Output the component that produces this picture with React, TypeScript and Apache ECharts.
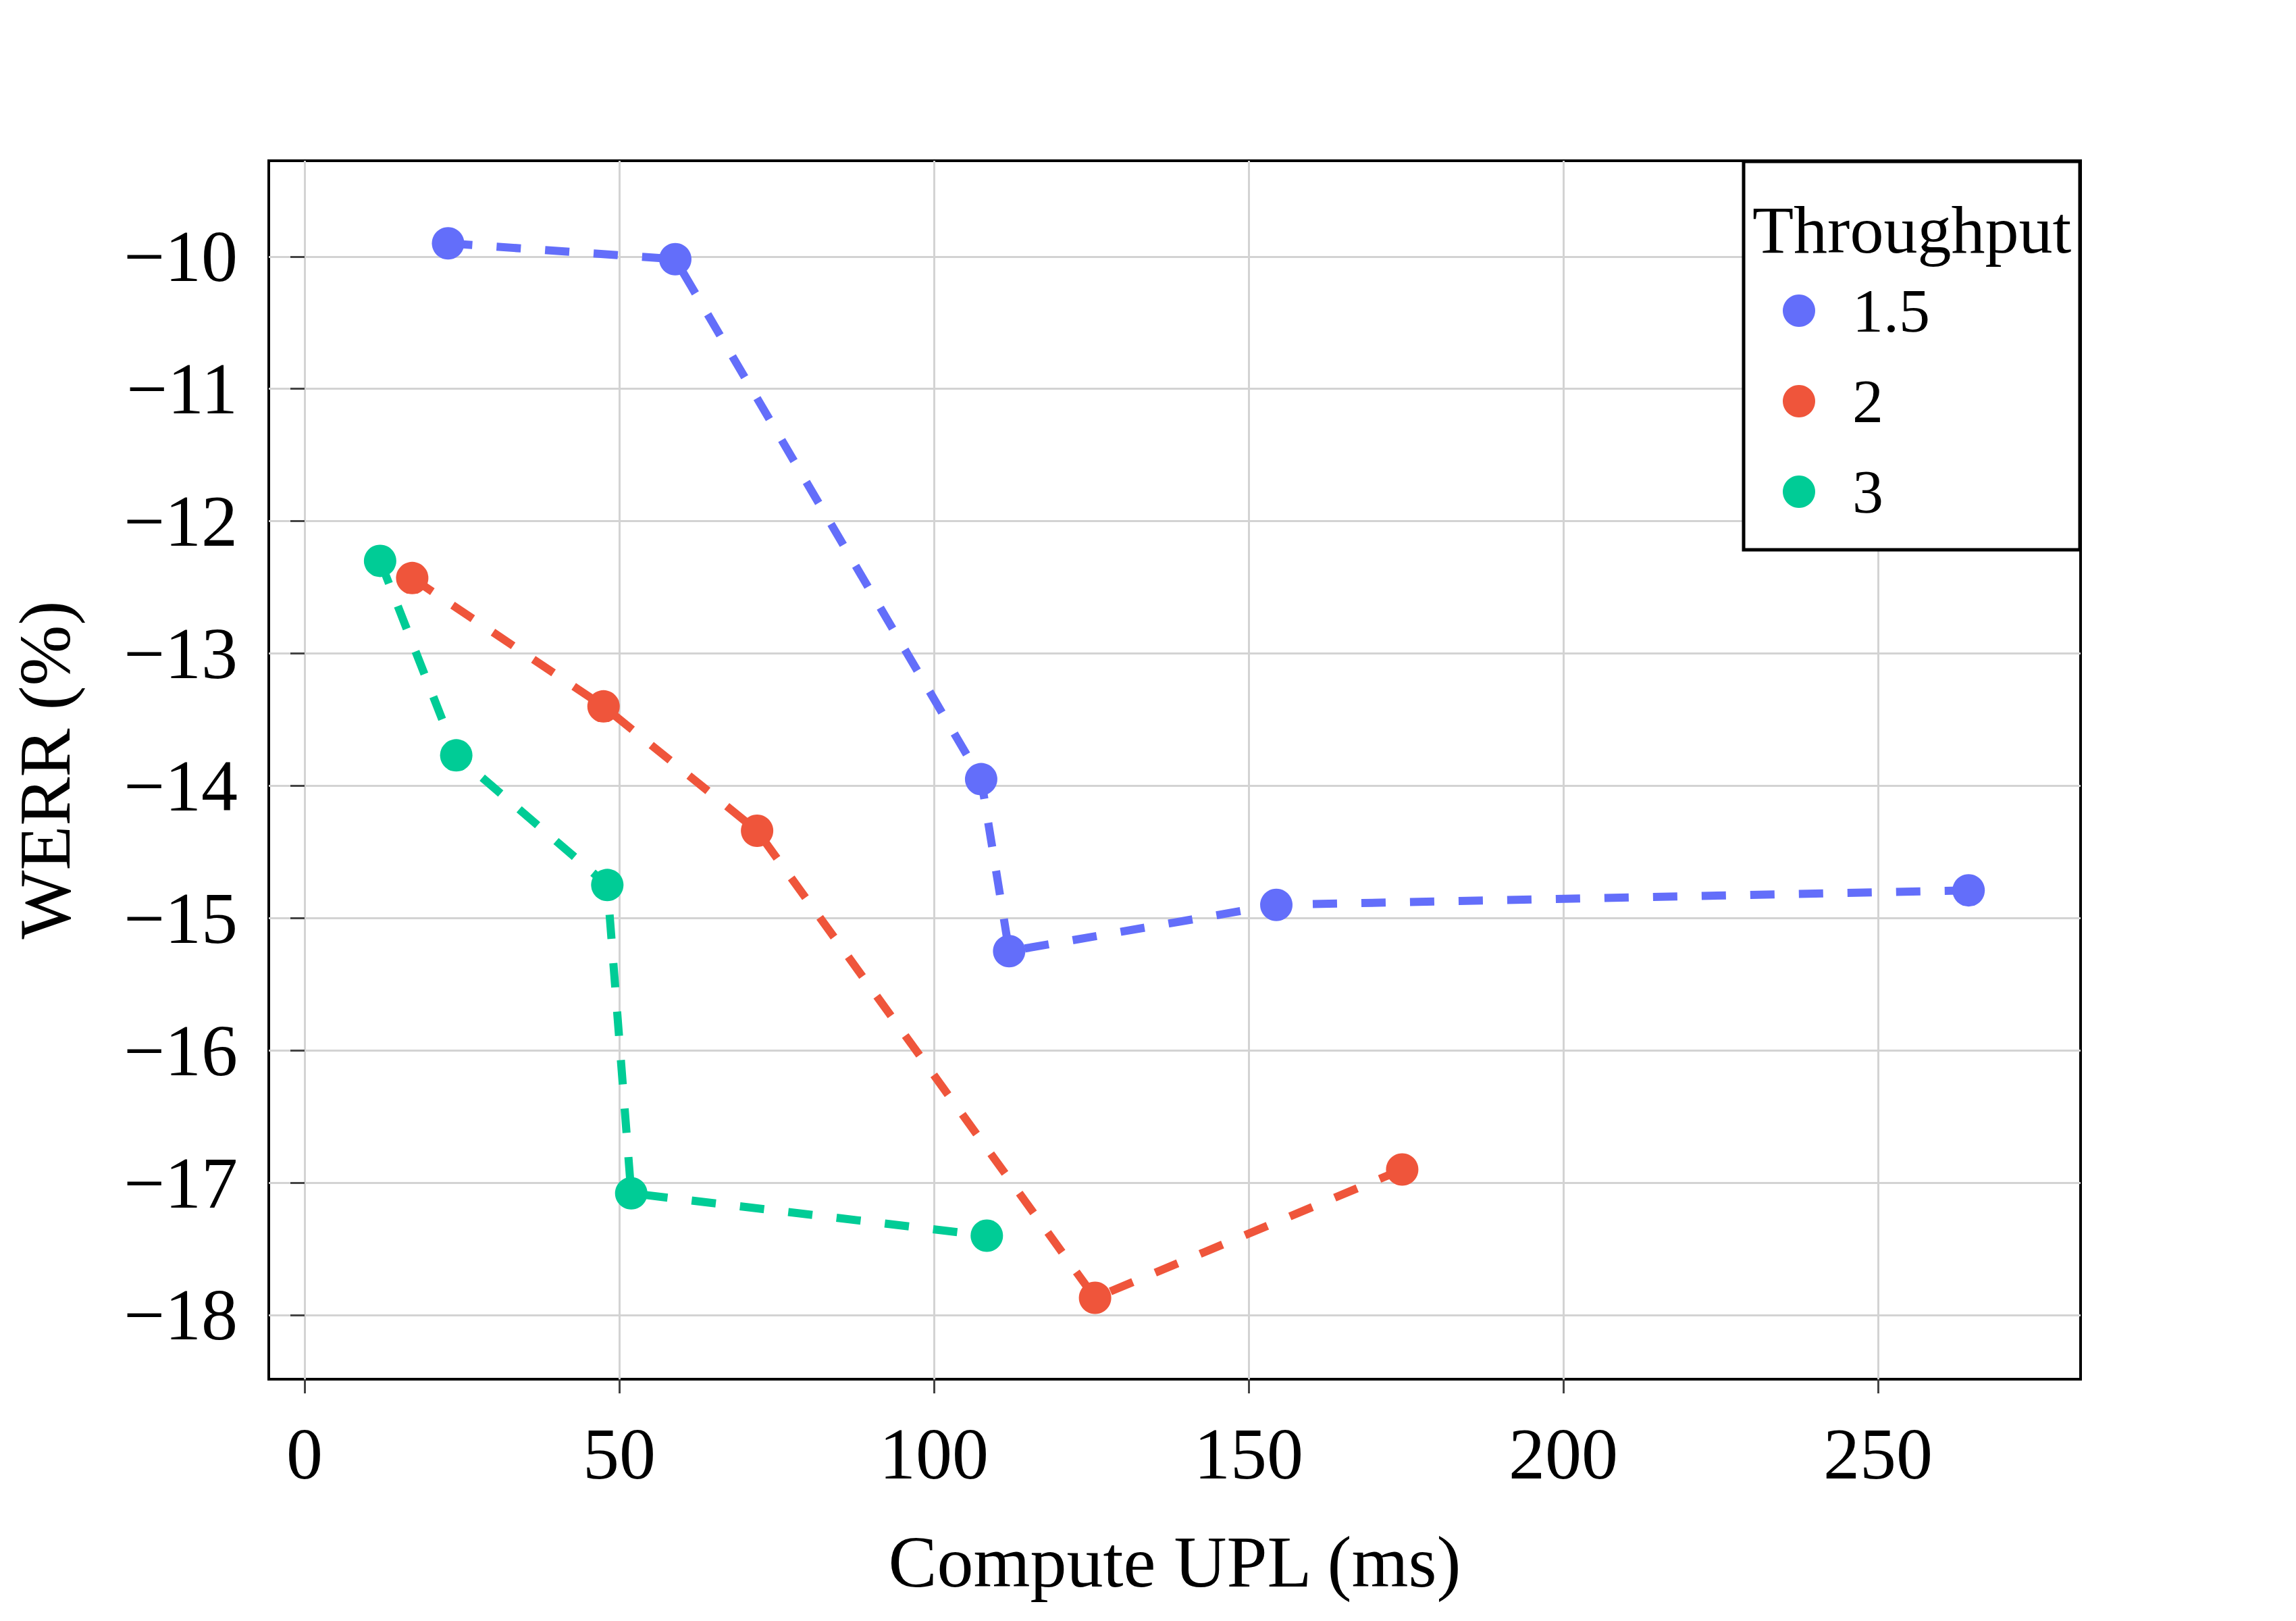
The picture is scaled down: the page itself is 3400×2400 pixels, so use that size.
import React, { useEffect, useRef } from "react";
import * as echarts from "echarts";

const seriesNames = ["1.5", "2", "3"];
const seriesColors = ["#636EFA", "#EF553B", "#00CC96"];
const x15 = [22.8, 58.9, 107.5, 111.95, 154.4, 264.4];
const y15 = [-9.9, -10.02, -13.95, -15.25, -14.9, -14.79];
const x2 = [17.1, 47.5, 71.9, 125.6, 174.4];
const y2 = [-12.43, -13.4, -14.34, -17.87, -16.9];
const x3 = [12.0, 24.1, 48.1, 51.9, 108.4];
const y3 = [-12.3, -13.77, -14.75, -17.08, -17.4];
const xTicks = [0, 50, 100, 150, 200, 250];
const yTicks = [-18, -17, -16, -15, -14, -13, -12, -11, -10];
const xTitle = "Compute UPL (ms)";
const yTitle = "WERR (%)";
const legendTitle = "Throughput";

const FONT = '"Liberation Serif", "Times New Roman", Times, serif';

function pairs(xs: number[], ys: number[]) {
  return xs.map((x, i) => [x, ys[i]]);
}

const fmt = (v: number) => (v < 0 ? "\u2212" + Math.abs(v) : String(v));

export default function App() {
  const ref = useRef<HTMLDivElement>(null);
  useEffect(() => {
    document.body.style.margin = "0";
    if (!ref.current) return;
    const chart = echarts.init(ref.current, null, { renderer: "svg" });
    const data = [pairs(x15, y15), pairs(x2, y2), pairs(x3, y3)];
    chart.setOption({
      animation: false,
      backgroundColor: "#ffffff",
      grid: {
        left: 398,
        top: 238,
        width: 2683,
        height: 1804,
        show: true,
        borderColor: "#000000",
        borderWidth: 4,
        backgroundColor: "transparent",
      },
      xAxis: {
        type: "value",
        min: -5.69,
        max: 282.19,
        name: xTitle,
        nameLocation: "middle",
        nameGap: 216,
        nameTextStyle: { fontFamily: FONT, fontSize: 108, color: "#000" },
        axisLine: { show: false },
        axisTick: {
          show: true,
          inside: false,
          length: 21,
          lineStyle: { color: "#444", width: 3 },
          customValues: xTicks,
        },
        axisLabel: {
          fontFamily: FONT,
          fontSize: 108,
          color: "#000",
          margin: 56,
          customValues: xTicks,
          formatter: fmt,
        },
        splitLine: { show: true, lineStyle: { color: "#d3d3d3", width: 3 } },
      },
      yAxis: {
        type: "value",
        min: -18.485,
        max: -9.276,
        name: yTitle,
        nameLocation: "middle",
        nameGap: 278,
        nameTextStyle: { fontFamily: FONT, fontSize: 108, color: "#000" },
        axisLine: { show: false },
        axisTick: {
          show: true,
          inside: false,
          length: 21,
          lineStyle: { color: "#444", width: 3 },
          customValues: yTicks,
        },
        axisLabel: {
          fontFamily: FONT,
          fontSize: 108,
          color: "#000",
          margin: 46,
          customValues: yTicks,
          formatter: fmt,
        },
        splitLine: { show: true, lineStyle: { color: "#d3d3d3", width: 3 } },
      },
      legend: {
        show: true,
        orient: "vertical",
        left: 2640,
        top: 414,
        padding: 0,
        itemWidth: 48,
        itemHeight: 48,
        itemGap: 42,
        icon: "circle",
        selectedMode: false,
        z: 20,
        itemStyle: { borderWidth: 0 },
        textStyle: {
          fontFamily: FONT,
          fontSize: 92,
          color: "#000",
          padding: [12, 0, 0, 50],
        },
        data: seriesNames,
      },
      graphic: [
        {
          type: "rect",
          z: 10,
          shape: { x: 2582, y: 239, width: 498, height: 575 },
          style: { fill: "#ffffff", stroke: "#000000", lineWidth: 5 },
        },
        {
          type: "text",
          z: 21,
          x: 2595,
          y: 340,
          style: {
            text: legendTitle,
            fontFamily: FONT,
            fontSize: 100,
            fill: "#000",
            textAlign: "left",
            textVerticalAlign: "middle",
          },
        },
      ],
      series: seriesNames.map((name, i) => ({
        name,
        type: "line",
        data: data[i],
        symbol: "circle",
        symbolSize: 48,
        showSymbol: true,
        color: seriesColors[i],
        itemStyle: { color: seriesColors[i], borderWidth: 0 },
        lineStyle: { color: seriesColors[i], width: 12, type: [36, 36], cap: "butt" },
        emphasis: { disabled: true },
        z: 2,
      })),
    });
    return () => chart.dispose();
  }, []);
  return <div ref={ref} style={{ width: 3400, height: 2400 }} />;
}
